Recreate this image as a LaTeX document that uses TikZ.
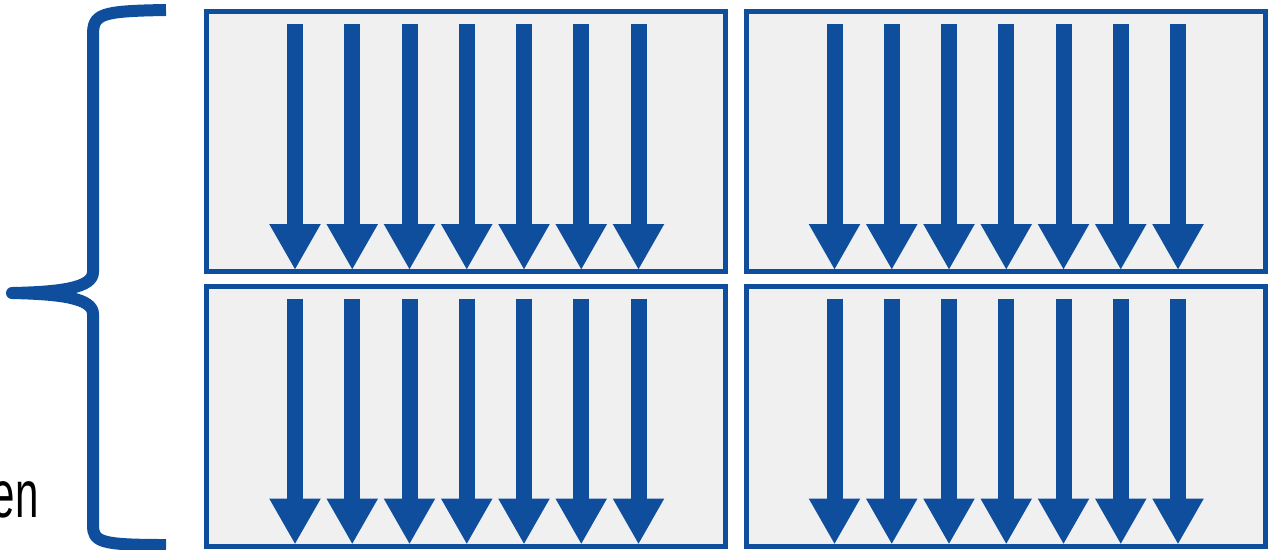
\documentclass[tikz,border=0pt]{standalone}
\usepackage{fontspec}
\setmainfont{Liberation Sans}
\usetikzlibrary{arrows.meta}
\definecolor{warpblue}{RGB}{14,78,157}
\definecolor{panelgray}{RGB}{240,240,240}
\tikzset{
  panel/.style={draw=warpblue, fill=panelgray, line width=0.1cm},
  lane/.style={warpblue, line width=0.32cm, -{Triangle[width=0.96cm,length=0.92cm]}},
}
\begin{document}
\begin{tikzpicture}[x=0.02cm,y=-0.02cm]
    \useasboundingbox (0,0) rectangle (1280,549);
    % Brace on the left
    \draw[warpblue, line width=0.24cm, line join=round] (166,10) .. controls (100,11) and (93,14) .. (93,35) -- (93,272) .. controls (93,288) and (60,292) .. (12,293) .. controls (60,294) and (93,298) .. (93,314) -- (93,525) .. controls (93,542) and (100,545) .. (166,545);
    % Four blocks with seven lanes each
    \foreach \x/\y in {206.5/11.5, 746/11.5, 206.5/286, 746/286} {
        \draw[panel] (\x,\y) rectangle ++(519,260);
        \foreach \i in {0,...,6}
            \draw[lane] (\x+88.5+57.25*\i,\y+12.5) -- (\x+88.5+57.25*\i,\y+258.5);
    }
    % Cut-off label
    \node[anchor=base east, inner sep=0pt, font=\fontsize{38}{40}\selectfont] (label) at (39,517) {\scalebox{0.63}[1]{en}};
\end{tikzpicture}
\end{document}
